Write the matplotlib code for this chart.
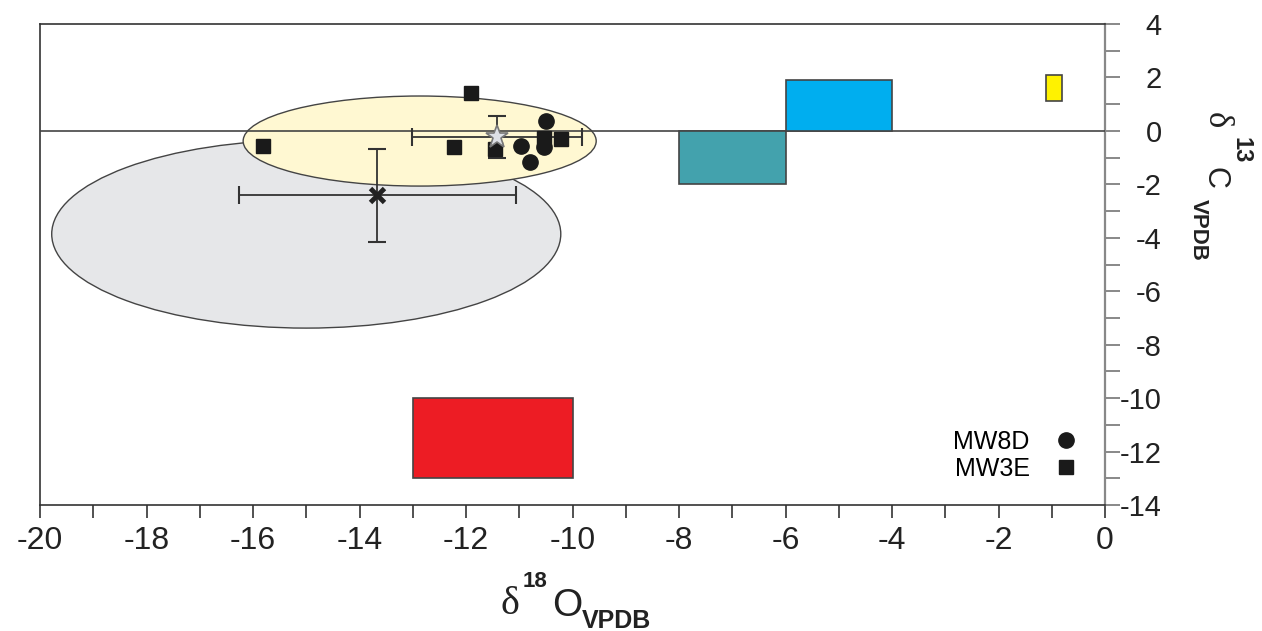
import numpy as np
import matplotlib
matplotlib.use("Agg")
import matplotlib.pyplot as plt
from matplotlib.patches import Ellipse

plt.rcParams['font.family'] = ['Liberation Sans', 'DejaVu Sans']
plt.rcParams['axes.unicode_minus'] = False

# field data: MW8D (circles) and MW3E (squares), d18O / d13C
mw8d_o = [-10.50, -10.97, -10.80, -10.54]
mw8d_c = [0.37, -0.57, -1.16, -0.60]
mw3e_o = [-11.91, -15.81, -12.23, -11.46, -10.22, -10.54]
mw3e_c = [1.42, -0.57, -0.60, -0.68, -0.30, -0.27]

# means with error bars (star = this study, x = comparison)
star_o, star_c = -11.42, -0.23
star_oerr, star_cerr = 1.6, 0.8
cross_o, cross_c = -13.67, -2.40
cross_oerr, cross_cerr = 2.6, 1.74

# ellipse fields: centre o, centre c, width, height
grey_field = [-15.0, -3.86, 9.56, 7.04]
yellow_field = [-12.87, -0.38, 6.63, 3.37]

# boxes: left, bottom, width, height
box_left = [-13.0, -8.0, -6.0, -1.1]
box_bottom = [-13.0, -2.0, 0.0, 1.1]
box_width = [3.0, 2.0, 2.0, 0.3]
box_height = [3.0, 2.0, 1.9, 1.0]
box_colors = ['#ed1c24', '#43a2ad', '#00aeef', '#fff200']

W, H = 1262, 631
fig = plt.figure(figsize=(W / 100, H / 100), dpi=100)
ax = fig.add_axes([40 / W, 1 - 505 / H, 1065 / W, 481 / H])

ax.add_patch(Ellipse(grey_field[:2], grey_field[2], grey_field[3],
                     facecolor='#e6e7e9', edgecolor='#444444', lw=1.0, zorder=1))
ax.add_patch(Ellipse(yellow_field[:2], yellow_field[2], yellow_field[3],
                     facecolor='#fff8d2', edgecolor='#444444', lw=1.0, zorder=2))
ax.axhline(0, color='#444444', lw=1.2, zorder=3)

ax.bar(box_left, box_height, width=box_width, bottom=box_bottom, align='edge',
       color=box_colors, edgecolor='#444444', lw=1.2, zorder=4)

ax.errorbar(cross_o, cross_c, xerr=cross_oerr, yerr=cross_cerr, fmt='none',
            ecolor='#333333', elinewidth=1.3, capsize=6.5, capthick=1.5, zorder=5)
ax.errorbar(star_o, star_c, xerr=star_oerr, yerr=star_cerr, fmt='none',
            ecolor='#333333', elinewidth=1.3, capsize=6.5, capthick=1.5, zorder=5)

ax.plot(mw3e_o, mw3e_c, 's', color='#1a1a1a', ms=9.5, ls='none', label='MW3E', zorder=6)
ax.plot(mw8d_o, mw8d_c, 'o', color='#1a1a1a', ms=11, ls='none', label='MW8D', zorder=7)
ax.plot(star_o, star_c, '*', ms=17, mfc='#dde0e6', mec='#777777', mew=1.2, zorder=8)
ax.plot(cross_o, cross_c, 'x', ms=10, mec='#222222', mew=3.5, zorder=8)

ax.set_xlim(-20, 0)
ax.set_ylim(-14, 4)
ax.set_xticks(np.arange(-20, 1, 2))
ax.set_xticks(np.arange(-19, 0, 2), minor=True)
ax.set_yticks(np.arange(-14, 5, 2))
ax.set_yticks(np.arange(-13, 4, 2), minor=True)
ax.yaxis.tick_right()

ax.tick_params(axis='x', which='both', direction='out', length=9, width=1.2,
               color='#333333', labelsize=23, pad=6, labelcolor='#222222')
ax.tick_params(axis='y', which='both', direction='out', length=11, width=1.4,
               color='#888888', labelsize=21, pad=30, labelcolor='#222222')
for tick in ax.yaxis.get_major_ticks():
    tick.label2.set_horizontalalignment('right')

for side in ['left', 'bottom', 'top']:
    ax.spines[side].set_color('#333333')
    ax.spines[side].set_linewidth(1.2)
ax.spines['right'].set_color('#888888')
ax.spines['right'].set_linewidth(1.6)

# legend: label then marker
h, l = ax.get_legend_handles_labels()
ax.legend(h[::-1], l[::-1], loc='lower right', bbox_to_anchor=(0.994, 0.004),
          markerfirst=False, frameon=False, fontsize=18, handlelength=0.8,
          handletextpad=1.05, labelspacing=0.1)

# axis titles built from pieces (pixel positions)
def px(x, y):
    return x / W, 1 - y / H

fig.text(*px(500, 614), 'δ', family='Liberation Serif', fontsize=29, color='#222222')
fig.text(*px(523, 587), '18', fontsize=16, weight='bold', color='#222222')
fig.text(*px(552, 616), 'O', fontsize=28, color='#222222')
fig.text(*px(582, 628), 'VPDB', fontsize=18, weight='bold', color='#222222')

kw = dict(rotation=-90, rotation_mode='anchor', ha='left', va='baseline', color='#222222')
fig.text(*px(1208, 112), 'δ', family='Liberation Serif', fontsize=25, **kw)
fig.text(*px(1235, 137), '13', fontsize=17, weight='bold', **kw)
fig.text(*px(1207, 167), 'C', fontsize=22, **kw)
fig.text(*px(1193, 199), 'VPDB', fontsize=16, weight='bold', **kw)

fig.savefig('out.png', dpi=100)
